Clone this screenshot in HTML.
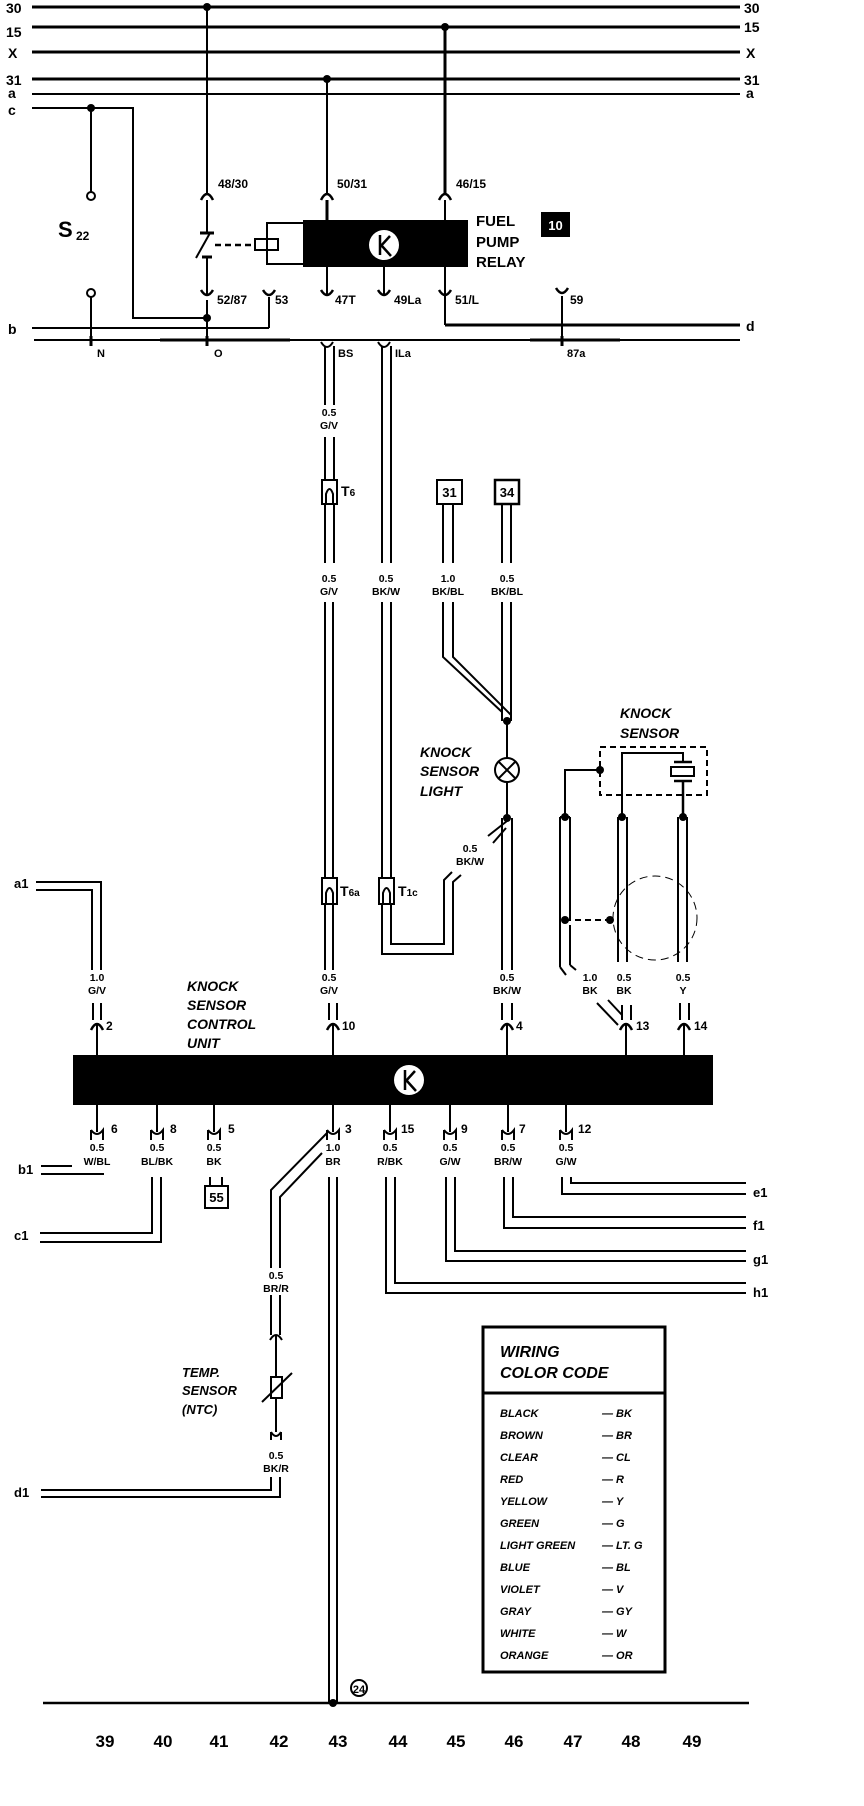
<!DOCTYPE html>
<html><head><meta charset="utf-8"><style>
html,body{margin:0;padding:0;background:#fff}
svg{display:block}
text{font-family:"Liberation Sans",sans-serif;fill:#000}
.b{font-weight:bold}
.bi{font-weight:bold;font-style:italic}
</style></head><body>
<svg width="864" height="1806" viewBox="0 0 864 1806" xmlns="http://www.w3.org/2000/svg">
<g stroke="#000" fill="none" stroke-width="2">
<!-- bus lines -->
<line x1="32" y1="7" x2="740" y2="7" stroke-width="3"/>
<line x1="32" y1="27" x2="740" y2="27" stroke-width="3"/>
<line x1="32" y1="52" x2="740" y2="52" stroke-width="3"/>
<line x1="32" y1="79" x2="740" y2="79" stroke-width="3"/>
<line x1="32" y1="94" x2="740" y2="94"/>
<polyline points="32,108 133,108 133,318 207,318"/>
<line x1="91" y1="108" x2="91" y2="192"/>
<line x1="91" y1="297" x2="91" y2="340"/>
<!-- verticals from bus -->
<line x1="207" y1="7" x2="207" y2="193"/>
<line x1="207" y1="200" x2="207" y2="233"/>
<line x1="207" y1="257" x2="207" y2="295"/>
<line x1="207" y1="300" x2="207" y2="340"/>
<line x1="327" y1="79" x2="327" y2="193"/>
<line x1="327" y1="200" x2="327" y2="220" stroke-width="3"/>
<line x1="445" y1="27" x2="445" y2="193" stroke-width="3"/>
<line x1="445" y1="200" x2="445" y2="220"/>
<!-- top pin arcs -->
<path d="M201,200 Q207,188 213,200 M321,200 Q327,188 333,200 M439,200 Q445,188 451,200" stroke-width="2.5"/>
<!-- switch -->
<line x1="200" y1="233" x2="214" y2="233" stroke-width="3"/>
<line x1="210" y1="233" x2="196" y2="258"/>
<line x1="202" y1="257" x2="212" y2="257" stroke-width="3"/>
<line x1="215" y1="245" x2="255" y2="245" stroke-dasharray="6,4" stroke-width="2.5"/>
<rect x="255" y="239" width="23" height="11"/>
<polyline points="303,223 267,223 267,264 303,264"/>
<!-- relay lower pins -->
<line x1="327" y1="267" x2="327" y2="295"/>
<line x1="384" y1="267" x2="384" y2="295"/>
<line x1="445" y1="267" x2="445" y2="325"/>
<polyline points="445,325 740,325" stroke-width="3"/>
<path d="M201,290 Q207,300 213,290 M263,290 Q269,300 275,290 M321,290 Q327,300 333,290 M378,290 Q384,300 390,290 M439,290 Q445,300 451,290 M556,288 Q562,298 568,288" stroke-width="2.5"/>
<line x1="269" y1="297" x2="269" y2="328"/>
<polyline points="32,328 269,328"/>
<line x1="562" y1="296" x2="562" y2="345"/>
<line x1="34" y1="340" x2="740" y2="340" stroke-width="2"/>
<line x1="160" y1="340" x2="290" y2="340" stroke-width="3"/>
<line x1="530" y1="340" x2="620" y2="340" stroke-width="3"/>
<line x1="91" y1="336" x2="91" y2="346" stroke-width="3"/>
<line x1="207" y1="336" x2="207" y2="346" stroke-width="3"/>
<line x1="562" y1="336" x2="562" y2="346" stroke-width="3"/>
<path d="M321,342 Q327,352 333,342 M378,342 Q384,352 390,342"/>
<!-- S22 terminals -->
<circle cx="91" cy="196" r="4"/>
<circle cx="91" cy="293" r="4"/>
<!-- G/V wire (pin 10) -->
<line x1="325" y1="346" x2="325" y2="405"/><line x1="334" y1="346" x2="334" y2="405"/>
<line x1="325" y1="437" x2="325" y2="480"/><line x1="334" y1="437" x2="334" y2="480"/>
<rect x="322" y="480" width="15" height="24"/>
<path d="M326,504 L326,494 Q329.5,484 333,494 L333,504"/>
<line x1="325" y1="504" x2="325" y2="563"/><line x1="334" y1="504" x2="334" y2="563"/>
<line x1="325" y1="602" x2="325" y2="878"/><line x1="333" y1="602" x2="333" y2="878"/>
<rect x="322" y="878" width="15" height="26"/>
<path d="M326,904 L326,893 Q329.5,883 333,893 L333,904"/>
<line x1="325" y1="904" x2="325" y2="970"/><line x1="333" y1="904" x2="333" y2="970"/>
<line x1="329" y1="1003" x2="329" y2="1020"/><line x1="337" y1="1003" x2="337" y2="1020"/>
<!-- ILa wire -->
<line x1="382" y1="346" x2="382" y2="563"/><line x1="391" y1="346" x2="391" y2="563"/>
<line x1="382" y1="602" x2="382" y2="878"/><line x1="391" y1="602" x2="391" y2="878"/>
<rect x="379" y="878" width="15" height="26"/>
<path d="M383,904 L383,893 Q386.5,883 390,893 L390,904"/>
<polyline points="391,904 391,944 444,944 444,880 452,872"/>
<polyline points="382,904 382,954 453,954 453,882 461,875"/>
<!-- boxes 31 / 34 -->
<rect x="437" y="480" width="25" height="24"/>
<rect x="495" y="480" width="24" height="24" stroke-width="2.5"/>
<line x1="443" y1="504" x2="443" y2="563"/><line x1="453" y1="504" x2="453" y2="563"/>
<line x1="502" y1="504" x2="502" y2="563"/><line x1="511" y1="504" x2="511" y2="563"/>
<polyline points="443,602 443,657 502,712"/>
<polyline points="453,602 453,657 511,715"/>
<line x1="502" y1="602" x2="502" y2="721"/><line x1="511" y1="602" x2="511" y2="721"/>
<line x1="507" y1="721" x2="507" y2="758"/>
<circle cx="507" cy="770" r="12"/>
<line x1="499" y1="762" x2="515" y2="778"/><line x1="515" y1="762" x2="499" y2="778"/>
<line x1="507" y1="782" x2="507" y2="818"/>
<line x1="502" y1="818" x2="502" y2="970"/><line x1="512" y1="818" x2="512" y2="970"/>
<line x1="507" y1="821" x2="488" y2="836"/><line x1="506" y1="828" x2="493" y2="843"/>
<line x1="502" y1="1003" x2="502" y2="1020"/><line x1="512" y1="1003" x2="512" y2="1020"/>
<!-- knock sensor -->
<rect x="600" y="747" width="107" height="48" stroke-dasharray="6,4"/>
<polyline points="600,770 565,770 565,817"/>
<polyline points="622,817 622,753 683,753 683,762"/>
<line x1="674" y1="762" x2="692" y2="762" stroke-width="2.5"/>
<rect x="671" y="767" width="23" height="9"/>
<line x1="674" y1="781" x2="692" y2="781" stroke-width="2.5"/>
<line x1="683" y1="781" x2="683" y2="817" stroke-width="2.5"/>
<line x1="560" y1="817" x2="560" y2="967"/><line x1="570" y1="817" x2="570" y2="920"/>
<line x1="560" y1="817" x2="570" y2="817"/>
<line x1="570" y1="925" x2="570" y2="965"/>
<line x1="560" y1="967" x2="566" y2="975"/><line x1="570" y1="965" x2="576" y2="970"/>
<line x1="565" y1="920" x2="610" y2="920" stroke-dasharray="6,4"/>
<circle cx="655" cy="918" r="42" stroke-width="1" stroke-dasharray="8,5"/>
<line x1="618" y1="817" x2="618" y2="962"/><line x1="627" y1="817" x2="627" y2="962"/>
<line x1="678" y1="817" x2="678" y2="962"/><line x1="687" y1="817" x2="687" y2="962"/>
<line x1="597" y1="1003" x2="618" y2="1025"/><line x1="608" y1="1000" x2="622" y2="1015"/>
<line x1="622" y1="1005" x2="622" y2="1020"/><line x1="631" y1="1005" x2="631" y2="1020"/>
<line x1="680" y1="1003" x2="680" y2="1020"/><line x1="689" y1="1003" x2="689" y2="1020"/>
<!-- a1 -->
<polyline points="36,882 101,882 101,970"/>
<polyline points="36,890 92,890 92,970"/>
<line x1="93" y1="1003" x2="93" y2="1020"/><line x1="101" y1="1003" x2="101" y2="1020"/>
<!-- top pin arcs of control unit -->
<path d="M91,1030 Q97,1018 103,1030 M327,1030 Q333,1018 339,1030 M501,1030 Q507,1018 513,1030 M620,1030 Q626,1018 632,1030 M678,1030 Q684,1018 690,1030" stroke-width="2.5"/>
<line x1="97" y1="1025" x2="97" y2="1055"/><line x1="333" y1="1025" x2="333" y2="1055"/>
<line x1="507" y1="1025" x2="507" y2="1055"/><line x1="626" y1="1025" x2="626" y2="1055"/>
<line x1="684" y1="1025" x2="684" y2="1055"/>
<!-- bottom pins -->
<g>
<line x1="97" y1="1105" x2="97" y2="1132"/><line x1="157" y1="1105" x2="157" y2="1132"/>
<line x1="214" y1="1105" x2="214" y2="1132"/><line x1="333" y1="1105" x2="333" y2="1132"/>
<line x1="390" y1="1105" x2="390" y2="1132"/><line x1="450" y1="1105" x2="450" y2="1132"/>
<line x1="508" y1="1105" x2="508" y2="1132"/><line x1="566" y1="1105" x2="566" y2="1132"/>
<path d="M91,1130 Q97,1138 103,1130 L103,1140 M91,1130 L91,1140 M151,1130 Q157,1138 163,1130 L163,1140 M151,1130 L151,1140 M208,1130 Q214,1138 220,1130 L220,1140 M208,1130 L208,1140 M327,1130 Q333,1138 339,1130 L339,1140 M327,1130 L327,1140 M384,1130 Q390,1138 396,1130 L396,1140 M384,1130 L384,1140 M444,1130 Q450,1138 456,1130 L456,1140 M444,1130 L444,1140 M502,1130 Q508,1138 514,1130 L514,1140 M502,1130 L502,1140 M560,1130 Q566,1138 572,1130 L572,1140 M560,1130 L560,1140" stroke-width="2"/>
</g>
<line x1="41" y1="1166" x2="72" y2="1166"/><line x1="41" y1="1174" x2="104" y2="1174"/>
<polyline points="152,1177 152,1233 40,1233"/>
<polyline points="161,1177 161,1242 40,1242"/>
<line x1="210" y1="1177" x2="210" y2="1186"/><line x1="222" y1="1177" x2="222" y2="1186"/>
<rect x="205" y="1186" width="23" height="22"/>
<!-- pin 3 -->
<line x1="329" y1="1177" x2="329" y2="1703"/><line x1="337" y1="1177" x2="337" y2="1703"/>
<polyline points="327,1133 271,1190 271,1268"/>
<polyline points="322,1153 280,1197 280,1268"/>
<line x1="271" y1="1295" x2="271" y2="1335"/><line x1="280" y1="1295" x2="280" y2="1335"/>
<path d="M270,1340 Q276,1330 282,1340"/>
<line x1="276" y1="1336" x2="276" y2="1377"/>
<rect x="271" y="1377" width="11" height="21"/>
<line x1="276" y1="1398" x2="276" y2="1432"/>
<line x1="262" y1="1402" x2="292" y2="1373"/>
<path d="M271,1432 Q276,1440 281,1432 M271,1432 L271,1440 M281,1432 L281,1440"/>
<polyline points="271,1477 271,1490 41,1490"/>
<polyline points="280,1477 280,1497 41,1497"/>
<!-- right side pins -->
<polyline points="386,1177 386,1293 746,1293"/><polyline points="395,1177 395,1283 746,1283"/>
<polyline points="446,1177 446,1261 746,1261"/><polyline points="455,1177 455,1251 746,1251"/>
<polyline points="504,1177 504,1228 746,1228"/><polyline points="513,1177 513,1217 746,1217"/>
<polyline points="562,1177 562,1194 746,1194"/><polyline points="571,1177 571,1183 746,1183"/>
<!-- legend -->
<rect x="483" y="1327" width="182" height="345" stroke-width="3"/>
<line x1="483" y1="1393" x2="665" y2="1393" stroke-width="3"/>
<!-- bottom line -->
<line x1="43" y1="1703" x2="749" y2="1703" stroke-width="2.5"/>
<circle cx="359" cy="1688" r="8"/>
</g>
<!-- filled shapes -->
<g fill="#000">
<circle cx="207" cy="7" r="4"/><circle cx="445" cy="27" r="4"/><circle cx="327" cy="79" r="4"/>
<circle cx="91" cy="108" r="4"/><circle cx="207" cy="318" r="4"/>
<rect x="303" y="220" width="165" height="47"/>
<rect x="73" y="1055" width="640" height="50"/>
<circle cx="507" cy="721" r="4"/><circle cx="507" cy="818" r="4"/>
<circle cx="600" cy="770" r="4"/><circle cx="565" cy="817" r="4"/><circle cx="622" cy="817" r="4"/><circle cx="683" cy="817" r="4"/>
<circle cx="565" cy="920" r="4"/><circle cx="610" cy="920" r="4"/>
<circle cx="333" cy="1703" r="4"/>
</g>
<g fill="#fff">
<circle cx="384" cy="245" r="15"/><circle cx="409" cy="1080" r="15"/>
</g>
<g stroke="#000" stroke-width="2.5" fill="none">
<path d="M380,235 L380,255 M380,247 L390,236 M382,246 L391,256"/>
<path d="M405,1070 L405,1090 M405,1082 L415,1071 M407,1081 L416,1091"/>
</g>
<!-- bus labels -->
<g class="b" font-size="14">
<text x="6" y="13">30</text><text x="6" y="37">15</text><text x="8" y="58">X</text><text x="6" y="85">31</text>
<text x="8" y="98">a</text><text x="8" y="115">c</text><text x="8" y="334">b</text>
<text x="744" y="13">30</text><text x="744" y="32">15</text><text x="746" y="58">X</text><text x="744" y="85">31</text>
<text x="746" y="98">a</text><text x="746" y="331">d</text>
</g>
<g class="b" font-size="12">
<text x="218" y="188">48/30</text><text x="337" y="188">50/31</text><text x="456" y="188">46/15</text>
<text x="217" y="304">52/87</text><text x="275" y="304">53</text><text x="335" y="304">47T</text>
<text x="394" y="304">49La</text><text x="455" y="304">51/L</text><text x="570" y="304">59</text>
<text x="476" y="226" font-size="15">FUEL</text><text x="476" y="247" font-size="15">PUMP</text><text x="476" y="267" font-size="15">RELAY</text>
</g>
<rect x="541" y="212" width="29" height="25" fill="#000"/>
<text x="555.5" y="230" font-size="13" class="b" text-anchor="middle" style="fill:#fff">10</text>
<text x="58" y="237" font-size="22" class="b">S</text><text x="76" y="240" font-size="12" class="b">22</text>
<g font-size="11" class="b">
<text x="97" y="357">N</text><text x="214" y="357">O</text><text x="338" y="357">BS</text><text x="395" y="357">ILa</text><text x="567" y="357">87a</text>
</g>
<!-- wire labels -->
<g font-size="10.5" class="b" text-anchor="middle">
<text x="329" y="416">0.5</text><text x="329" y="429">G/V</text>
<text x="329" y="582">0.5</text><text x="329" y="595">G/V</text>
<text x="386" y="582">0.5</text><text x="386" y="595">BK/W</text>
<text x="448" y="582">1.0</text><text x="448" y="595">BK/BL</text>
<text x="507" y="582">0.5</text><text x="507" y="595">BK/BL</text>
<text x="470" y="852">0.5</text><text x="470" y="865">BK/W</text>
<text x="97" y="981">1.0</text><text x="97" y="994">G/V</text>
<text x="329" y="981">0.5</text><text x="329" y="994">G/V</text>
<text x="507" y="981">0.5</text><text x="507" y="994">BK/W</text>
<text x="590" y="981">1.0</text><text x="590" y="994">BK</text>
<text x="624" y="981">0.5</text><text x="624" y="994">BK</text>
<text x="683" y="981">0.5</text><text x="683" y="994">Y</text>
<text x="97" y="1151">0.5</text><text x="97" y="1165">W/BL</text>
<text x="157" y="1151">0.5</text><text x="157" y="1165">BL/BK</text>
<text x="214" y="1151">0.5</text><text x="214" y="1165">BK</text>
<text x="333" y="1151">1.0</text><text x="333" y="1165">BR</text>
<text x="390" y="1151">0.5</text><text x="390" y="1165">R/BK</text>
<text x="450" y="1151">0.5</text><text x="450" y="1165">G/W</text>
<text x="508" y="1151">0.5</text><text x="508" y="1165">BR/W</text>
<text x="566" y="1151">0.5</text><text x="566" y="1165">G/W</text>
<text x="276" y="1279">0.5</text><text x="276" y="1292">BR/R</text>
<text x="276" y="1459">0.5</text><text x="276" y="1472">BK/R</text>
<text x="216.5" y="1202" font-size="13">55</text>
<text x="449.5" y="497" font-size="13">31</text><text x="507" y="497" font-size="13">34</text>
<text x="359" y="1693" font-size="11">24</text>
</g>
<g font-size="12" class="b">
<text x="106" y="1030">2</text><text x="342" y="1030">10</text><text x="516" y="1030">4</text>
<text x="636" y="1030">13</text><text x="694" y="1030">14</text>
<text x="111" y="1133">6</text><text x="170" y="1133">8</text><text x="228" y="1133">5</text>
<text x="345" y="1133">3</text><text x="401" y="1133">15</text><text x="461" y="1133">9</text>
<text x="519" y="1133">7</text><text x="578" y="1133">12</text>
<text x="341" y="496" font-size="14">T<tspan font-size="10">6</tspan></text>
<text x="340" y="896" font-size="14">T<tspan font-size="10">6a</tspan></text>
<text x="398" y="896" font-size="14">T<tspan font-size="10">1c</tspan></text>
<text x="14" y="888" font-size="13">a1</text><text x="18" y="1174" font-size="13">b1</text>
<text x="14" y="1240" font-size="13">c1</text><text x="14" y="1497" font-size="13">d1</text>
<text x="753" y="1197" font-size="13">e1</text><text x="753" y="1230" font-size="13">f1</text>
<text x="753" y="1264" font-size="13">g1</text><text x="753" y="1297" font-size="13">h1</text>
</g>
<g class="bi" font-size="14">
<text x="420" y="757">KNOCK</text><text x="420" y="776">SENSOR</text><text x="420" y="796">LIGHT</text>
<text x="620" y="718">KNOCK</text><text x="620" y="738">SENSOR</text>
<text x="187" y="991">KNOCK</text><text x="187" y="1010">SENSOR</text><text x="187" y="1029">CONTROL</text><text x="187" y="1048">UNIT</text>
<text x="182" y="1377" font-size="13">TEMP.</text><text x="182" y="1395" font-size="13">SENSOR</text><text x="182" y="1414" font-size="13">(NTC)</text>
<text x="500" y="1357" font-size="16">WIRING</text><text x="500" y="1378" font-size="16">COLOR CODE</text>
</g>
<g class="bi" font-size="11">
<text x="500" y="1417">BLACK</text><text x="602" y="1417">— BK</text>
<text x="500" y="1439">BROWN</text><text x="602" y="1439">— BR</text>
<text x="500" y="1461">CLEAR</text><text x="602" y="1461">— CL</text>
<text x="500" y="1483">RED</text><text x="602" y="1483">— R</text>
<text x="500" y="1505">YELLOW</text><text x="602" y="1505">— Y</text>
<text x="500" y="1527">GREEN</text><text x="602" y="1527">— G</text>
<text x="500" y="1549">LIGHT GREEN</text><text x="602" y="1549">— LT. G</text>
<text x="500" y="1571">BLUE</text><text x="602" y="1571">— BL</text>
<text x="500" y="1593">VIOLET</text><text x="602" y="1593">— V</text>
<text x="500" y="1615">GRAY</text><text x="602" y="1615">— GY</text>
<text x="500" y="1637">WHITE</text><text x="602" y="1637">— W</text>
<text x="500" y="1659">ORANGE</text><text x="602" y="1659">— OR</text>
</g>
<g font-size="17" class="b" text-anchor="middle">
<text x="105" y="1747">39</text><text x="163" y="1747">40</text><text x="219" y="1747">41</text>
<text x="279" y="1747">42</text><text x="338" y="1747">43</text><text x="398" y="1747">44</text>
<text x="456" y="1747">45</text><text x="514" y="1747">46</text><text x="573" y="1747">47</text>
<text x="631" y="1747">48</text><text x="692" y="1747">49</text>
</g>
</svg>
</body></html>
